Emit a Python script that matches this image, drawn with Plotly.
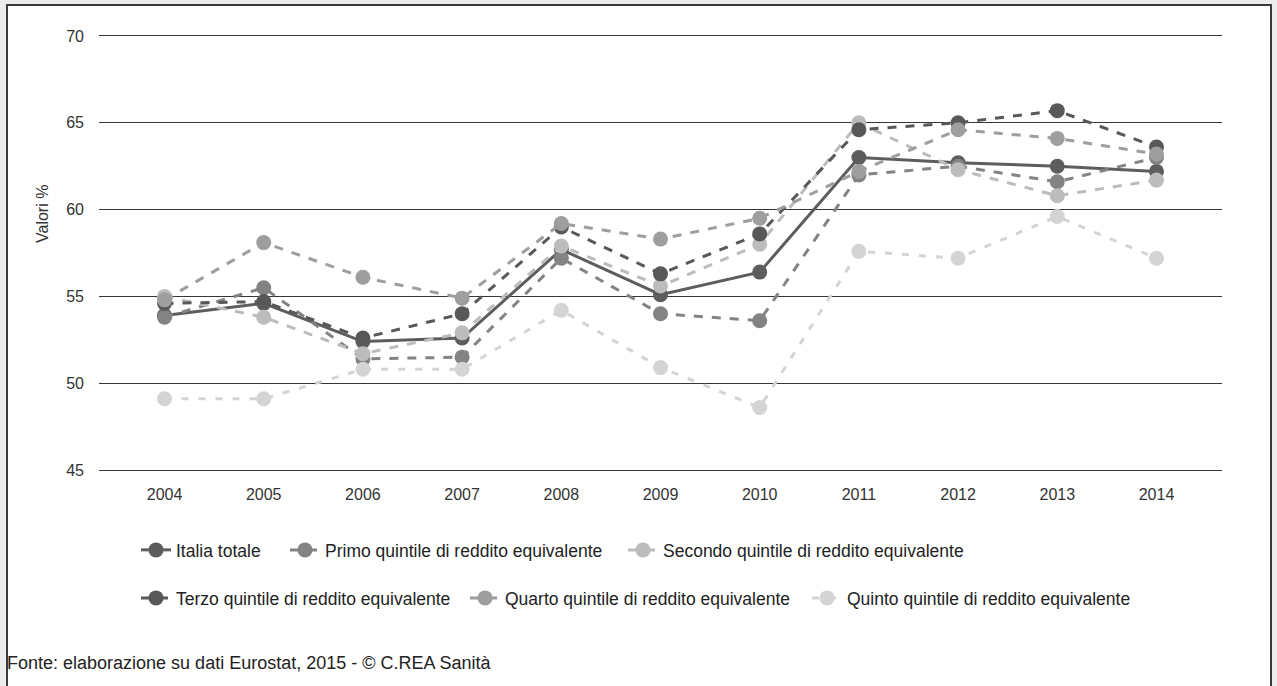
import plotly.graph_objects as go

# Anni
years = ["2004", "2005", "2006", "2007", "2008", "2009", "2010", "2011", "2012", "2013", "2014"]

# Valori % per serie
italia_totale = [53.9, 54.6, 52.4, 52.6, 57.7, 55.1, 56.4, 63.0, 62.7, 62.5, 62.2]
primo_quintile = [53.8, 55.5, 51.4, 51.5, 57.2, 54.0, 53.6, 62.0, 62.5, 61.6, 63.0]
secondo_quintile = [55.0, 53.8, 51.7, 52.9, 57.9, 55.6, 58.0, 65.0, 62.3, 60.8, 61.7]
terzo_quintile = [54.6, 54.7, 52.6, 54.0, 59.0, 56.3, 58.6, 64.6, 65.0, 65.7, 63.6]
quarto_quintile = [54.8, 58.1, 56.1, 54.9, 59.2, 58.3, 59.5, 62.2, 64.6, 64.1, 63.2]
quinto_quintile = [49.1, 49.1, 50.8, 50.8, 54.2, 50.9, 48.6, 57.6, 57.2, 59.6, 57.2]

y_ticks = [45, 50, 55, 60, 65, 70]

W, H = 1277, 686
L, R, T, B = 99, 55, 36, 216
pw, ph = W - L - R, H - T - B

# nome, valori, colore, tratteggio, legenda, posizione legenda (px)
series = [
    ("Italia totale", italia_totale, "#5d5d5d", "solid", "legend", (136, 550)),
    ("Primo quintile di reddito equivalente", primo_quintile, "#838383", "9px,9px", "legend2", (285, 550)),
    ("Secondo quintile di reddito equivalente", secondo_quintile, "#bcbcbc", "9px,9px", "legend3", (623, 550)),
    ("Terzo quintile di reddito equivalente", terzo_quintile, "#585858", "9px,9px", "legend4", (136, 598)),
    ("Quarto quintile di reddito equivalente", quarto_quintile, "#9e9e9e", "9px,9px", "legend5", (465, 598)),
    ("Quinto quintile di reddito equivalente", quinto_quintile, "#d4d4d4", "7px,10px", "legend6", (807, 598)),
]

font_family = "Liberation Sans, Arial, sans-serif"
grid_color = "#363636"

fig = go.Figure()
legends = {}
for name, vals, color, dash, leg, (lx, ly) in series:
    fig.add_trace(go.Scatter(
        x=years, y=vals, name=name, mode="lines+markers",
        line=dict(color=color, width=3, dash=dash),
        marker=dict(color=color, size=15, line=dict(width=0)),
        legend=leg,
    ))
    legends[leg] = dict(
        orientation="h", xref="container", yref="container",
        x=lx / W, y=1 - ly / H, xanchor="left", yanchor="middle",
        font=dict(family=font_family, size=17.5, color="#222"),
        itemwidth=30, bgcolor="rgba(0,0,0,0)", borderwidth=0,
    )

fig.update_layout(
    width=W, height=H,
    margin=dict(l=L, r=R, t=T, b=B, pad=0),
    paper_bgcolor="#ececec",
    plot_bgcolor="white",
    font=dict(family=font_family, size=15, color="#333"),
    showlegend=True,
    xaxis=dict(
        type="category", showgrid=False, zeroline=False,
        showline=True, mirror=True, linecolor=grid_color, linewidth=1.4,
        ticks="", tickfont=dict(size=16, color="#333"),
        ticklabelstandoff=10,
    ),
    yaxis=dict(
        range=[45, 70], tickvals=y_ticks, showgrid=True,
        gridcolor=grid_color, gridwidth=1.4, zeroline=False, showline=False,
        ticks="", tickfont=dict(size=16, color="#333"),
        ticklabelstandoff=14,
    ),
    shapes=[
        dict(type="rect", xref="paper", yref="paper",
             x0=(7 - L) / pw, x1=(1271 - L) / pw,
             y0=(H - B - 700) / ph, y1=(H - B - 5) / ph,
             line=dict(color="#3a3a3a", width=2), fillcolor="white", layer="below"),
    ],
    annotations=[
        dict(text="Valori %", xref="paper", yref="paper",
             x=(42 - L) / pw, y=(H - B - 214) / ph, textangle=-90,
             xanchor="center", yanchor="middle", showarrow=False,
             font=dict(family=font_family, size=16, color="#333")),
        dict(text="Fonte: elaborazione su dati Eurostat, 2015 - © C.REA Sanità",
             xref="paper", yref="paper",
             x=(5 - L) / pw, y=(H - B - 663) / ph,
             xanchor="left", yanchor="middle", showarrow=False,
             font=dict(family=font_family, size=18, color="#222")),
    ],
)
fig.update_layout(**legends)

fig.write_html("out.html")
